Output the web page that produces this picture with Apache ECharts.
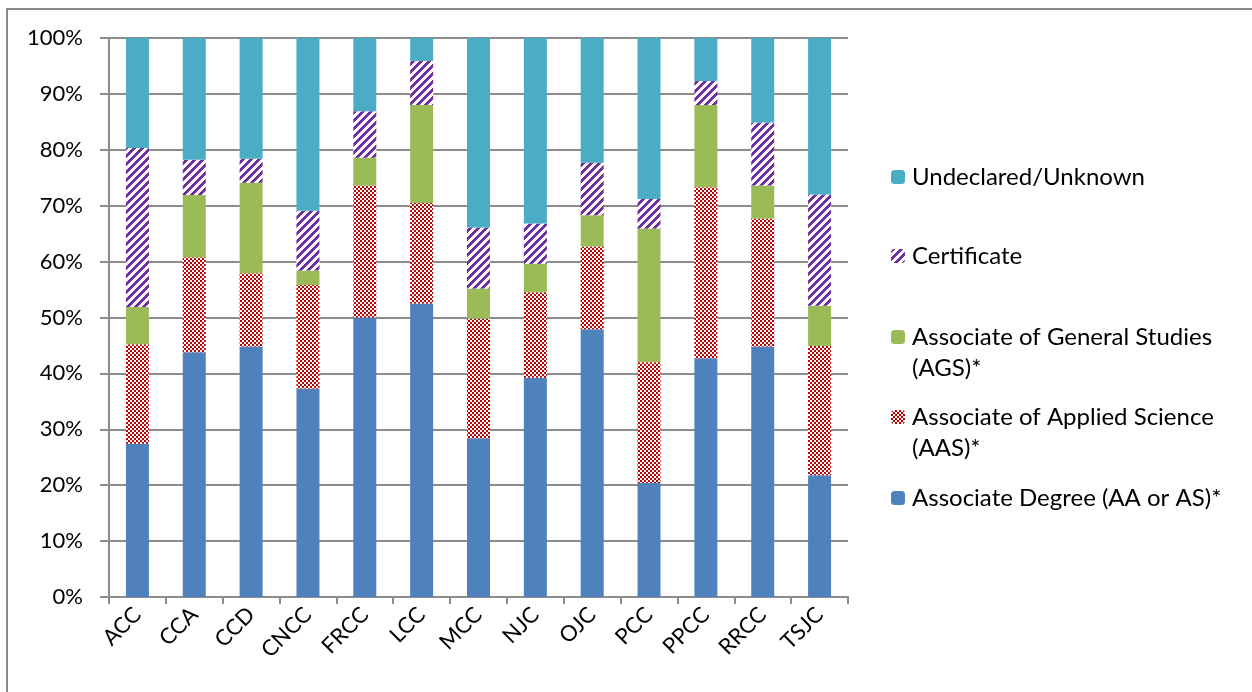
<!DOCTYPE html>
<html>
<head>
<meta charset="utf-8">
<script src="https://cdn.jsdelivr.net/npm/echarts@6/dist/echarts.min.js"></script>
<style>
html,body{margin:0;padding:0;background:#fff;}
#c{width:1252px;height:692px;}
</style>
</head>
<body>
<div id="c"></div>
<script>
const categories = ['ACC','CCA','CCD','CNCC','FRCC','LCC','MCC','NJC','OJC','PCC','PPCC','RRCC','TSJC'];
const seriesNames = ['Associate Degree (AA or AS)*','Associate of Applied Science (AAS)*','Associate of General Studies (AGS)*','Certificate','Undeclared/Unknown'];
const associateDegree = [27.4,43.8,44.8,37.3,50.0,52.5,28.4,39.2,47.9,20.4,42.7,44.8,21.8];
const aas             = [17.8,17.0,13.1,18.5,23.6,18.0,21.4,15.3,14.8,21.6,30.6,22.9,23.1];
const ags             = [6.7,11.1,16.2,2.6,5.0,17.5,5.4,5.1,5.6,23.9,14.7,5.9,7.2];
const certificate     = [28.4,6.3,4.3,10.7,8.3,7.9,10.9,7.2,9.4,5.3,4.3,11.3,19.9];
const undeclared      = [19.7,21.8,21.6,30.9,13.1,4.1,33.9,33.2,22.3,28.8,7.7,15.1,28.0];
const yTicks = [0,10,20,30,40,50,60,70,80,90,100];

function checker(){
  const c=document.createElement('canvas');c.width=4;c.height=4;
  const g=c.getContext('2d');g.fillStyle='#ffffff';g.fillRect(0,0,4,4);
  g.fillStyle='#C00000';g.fillRect(0,0,2,2);g.fillRect(2,2,2,2);return c;
}
function stripes(){
  const n=8;const c=document.createElement('canvas');c.width=n;c.height=n;
  const g=c.getContext('2d');g.fillStyle='#ffffff';g.fillRect(0,0,n,n);
  g.fillStyle='#7030A0';
  for(let y=0;y<n;y++)for(let x=0;x<n;x++){if(((x+y)%n)<4)g.fillRect(x,y,1,1);}
  return c;
}
const FONT='Lato';
const colors=['#4F81BD',{image:checker(),repeat:'repeat'},'#9BBB59',{image:stripes(),repeat:'repeat'},'#4BACC6'];
const dataArr=[associateDegree,aas,ags,certificate,undeclared];

const legendTexts = {
  'Undeclared/Unknown':'Undeclared/Unknown',
  'Certificate':'Certificate',
  'Associate of General Studies (AGS)*':'\nAssociate of General Studies\n(AGS)*',
  'Associate of Applied Science (AAS)*':'\nAssociate of Applied Science\n(AAS)*',
  'Associate Degree (AA or AS)*':'Associate Degree (AA or AS)*'
};
const legendCenters = [[seriesNames[4],177],[seriesNames[3],256],[seriesNames[2],337],[seriesNames[1],417],[seriesNames[0],498]];
const legends = legendCenters.map(([name,cy])=>{
  const multi = legendTexts[name].startsWith('\n');
  const h = multi?93:31;
  return {
    data:[name], orient:'vertical', left:891, top: cy - h/2, padding:0,
    itemWidth:14,itemHeight:14,itemGap:0, selectedMode:false,
    formatter: n=>legendTexts[n],
    textStyle:{fontFamily:FONT,fontSize:24,color:'#000',lineHeight:31,padding:[0,0,0,2]}
  };
});

const chart=echarts.init(document.getElementById('c'),null,{renderer:'canvas'});
chart.setOption({
  animation:false,
  backgroundColor:'#fff',
  graphic:[{type:'rect',shape:{x:7,y:9,width:1400,height:900},style:{fill:null,stroke:'#8a8a8a',lineWidth:2},silent:true,z:-1}],
  grid:{left:109,right:404,top:38,bottom:95,containLabel:false},
  legend:legends,
  xAxis:{type:'category',data:categories,
    axisLine:{lineStyle:{color:'#8c8c8c',width:2}},
    axisTick:{show:true,length:7,lineStyle:{color:'#8c8c8c',width:2}},
    axisLabel:{rotate:45,fontFamily:FONT,fontSize:22,color:'#000',margin:14}},
  yAxis:{type:'value',min:0,max:100,interval:10,
    axisLine:{show:true,lineStyle:{color:'#8c8c8c',width:2}},
    axisTick:{show:true,length:9,lineStyle:{color:'#8c8c8c',width:2}},
    splitLine:{lineStyle:{color:'#8c8c8c',width:2}},
    axisLabel:{formatter:v=>yTicks.includes(v)?v+'%':'',fontFamily:FONT,fontSize:22,color:'#000',margin:26}},
  series:seriesNames.map((n,i)=>({
    name:n,type:'bar',stack:'total',barWidth:23,data:dataArr[i],
    itemStyle:{color:colors[i]}
  }))
});
</script>
</body>
</html>
